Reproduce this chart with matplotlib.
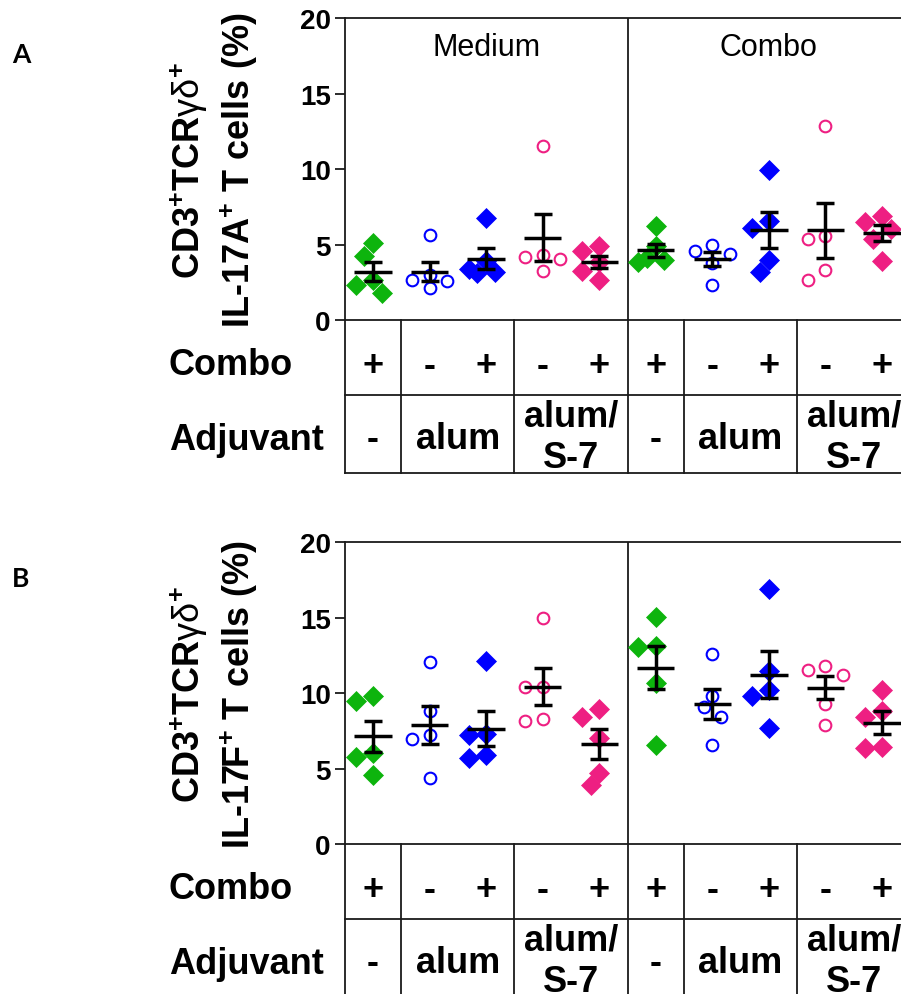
import numpy as np
import matplotlib.pyplot as plt

plt.rcParams["font.family"] = ["Liberation Sans", "DejaVu Sans"]
plt.rcParams["mathtext.fontset"] = "custom"
plt.rcParams["mathtext.rm"] = "Liberation Sans"
plt.rcParams["mathtext.bf"] = "Liberation Sans:bold"
plt.rcParams["mathtext.it"] = "Liberation Sans:italic"

FIG_W, FIG_H = 901, 995

STIMULATIONS = ["Medium", "Combo"]
COMBO_SIGNS = ["+", "-", "+", "-", "+", "+", "-", "+", "-", "+"]
ADJUVANTS = ["-", "alum", "alum/\nS-7"]
ADJUVANT_SPANS = [(0, 0), (1, 2), (3, 4)]
Y_TICKS = [0, 5, 10, 15, 20]

# % of CD3+TCRgd+ cells, five mice per group, groups in table order
IL17A = [
    [5.11, 4.27, 2.65, 2.32, 1.79],
    [5.68, 3.01, 2.70, 2.61, 2.14],
    [6.76, 3.95, 3.38, 3.21, 3.12],
    [11.56, 4.31, 4.16, 4.09, 3.27],
    [4.93, 4.60, 3.87, 3.27, 2.67],
    [6.26, 4.89, 4.13, 4.02, 3.87],
    [4.97, 4.60, 4.42, 3.82, 2.34],
    [9.97, 6.59, 6.08, 4.02, 3.18],
    [12.89, 5.55, 5.37, 3.34, 2.67],
    [6.92, 6.52, 6.03, 5.37, 3.96],
]
IL17F = [
    [9.80, 9.49, 6.07, 5.76, 4.62],
    [12.04, 8.82, 7.22, 7.00, 4.42],
    [12.11, 7.33, 7.27, 5.89, 5.71],
    [14.96, 10.40, 10.40, 8.33, 8.16],
    [8.98, 8.44, 7.04, 4.69, 3.96],
    [15.04, 13.11, 13.04, 10.71, 6.60],
    [12.62, 9.82, 9.07, 8.40, 6.56],
    [16.93, 11.49, 10.22, 9.82, 7.71],
    [11.82, 11.56, 11.22, 9.27, 7.93],
    [10.24, 8.82, 8.44, 6.42, 6.38],
]

GREEN, BLUE, PINK = "#0DB40D", "#0000FF", "#EE1F82"
# (color, marker, filled) for the five adjuvant/combo groups
GROUP_STYLES = [
    (GREEN, "D", True),
    (BLUE, "o", False),
    (BLUE, "D", True),
    (PINK, "o", False),
    (PINK, "D", True),
]

LINE_C = "#1a1a1a"
LINE_W = 1.3
BAR_W = 2.5
TABLE_H = 153.0
TABLE_SPLIT = 74.4


def fx(px):
    return px / FIG_W


def fy(px):
    return 1 - px / FIG_H


def swarm_x(ax, x0, values, step_px=8.7, min_dist_px=14.0):
    # spread overlapping points sideways, largest value first
    pts = ax.transData.transform(np.column_stack([np.full(len(values), x0), values]))
    xs = pts[:, 0].copy()
    placed = []
    for i in np.argsort(values)[::-1]:
        y = pts[i, 1]
        best, best_gap = pts[i, 0], -1.0
        for k in [0, -1, 1, -2, 2]:
            x = pts[i, 0] + k * step_px
            gap = min([np.hypot(x - px, y - py) for px, py in placed] or [np.inf])
            if gap >= min_dist_px:
                best = x
                break
            if gap > best_gap:
                best, best_gap = x, gap
        placed.append((best, y))
        xs[i] = best
    return ax.transData.inverted().transform(np.column_stack([xs, pts[:, 1]]))[:, 0]


def draw_panel(fig, top_px, data, letter, cytokine, show_header):
    bottom_px = top_px + 302.0
    left_px, width_px = 344.7, 565.6
    ax = fig.add_axes([fx(left_px), fy(bottom_px), width_px / FIG_W, (bottom_px - top_px) / FIG_H])
    ax.set_xlim(-0.5, 9.5)
    ax.set_ylim(0, 20)
    for side in ["left", "top", "bottom"]:
        ax.spines[side].set_linewidth(LINE_W)
        ax.spines[side].set_color(LINE_C)
    ax.spines["right"].set_visible(False)
    ax.set_xticks([])
    ax.set_yticks(Y_TICKS, labels=[str(t) for t in Y_TICKS], fontsize=20, fontweight="bold")
    ax.tick_params(axis="y", direction="out", length=7, width=LINE_W, color=LINE_C, pad=3)
    ax.axvline(4.5, color=LINE_C, lw=LINE_W)

    for g, vals in enumerate(data):
        vals = np.asarray(vals)
        color, marker, filled = GROUP_STYLES[g % 5]
        xs = swarm_x(ax, g, vals)
        if filled:
            ax.plot(xs, vals, ls="none", marker=marker, ms=9.8, mfc=color, mec=color,
                    mew=0.5, zorder=2, clip_on=False)
        else:
            ax.plot(xs, vals, ls="none", marker=marker, ms=8.4, mfc="none", mec=color,
                    mew=1.5, zorder=2, clip_on=False)
        mean = vals.mean()
        sem = vals.std(ddof=1) / np.sqrt(len(vals))
        ax.errorbar(g, mean, yerr=sem, fmt="none", ecolor="black", elinewidth=BAR_W,
                    capsize=6.8, capthick=BAR_W, zorder=3)
        ax.hlines(mean, g - 0.33, g + 0.33, color="black", lw=BAR_W, zorder=3)

    if show_header:
        for s, name in enumerate(STIMULATIONS):
            ax.text(2 + 5 * s, 17.6, name, ha="center", va="baseline", fontsize=22)

    # condition table below the axis
    tab = fig.add_axes([fx(left_px), fy(bottom_px + TABLE_H), width_px / FIG_W, TABLE_H / FIG_H])
    tab.set_xlim(-0.5, 9.5)
    tab.set_ylim(TABLE_H, 0)
    tab.axis("off")
    for xv in [-0.5, 0.5, 2.5, 4.5, 5.5, 7.5]:
        tab.plot([xv, xv], [0, TABLE_H], color=LINE_C, lw=LINE_W, clip_on=False)
    for yv in [TABLE_SPLIT, TABLE_H]:
        tab.plot([-0.5, 9.5], [yv, yv], color=LINE_C, lw=LINE_W, clip_on=False)

    for g, sign in enumerate(COMBO_SIGNS):
        tab.text(g, 54.5, sign, ha="center", va="baseline", fontsize=26, fontweight="bold")
    for s in range(len(STIMULATIONS)):
        for name, (a, b) in zip(ADJUVANTS, ADJUVANT_SPANS):
            xc = 5 * s + (a + b) / 2
            lines = name.split("\n")
            if len(lines) == 1:
                tab.text(xc, 128.0, name, ha="center", va="baseline", fontsize=26, fontweight="bold")
            else:
                tab.text(xc, 105.4, lines[0], ha="center", va="baseline", fontsize=26, fontweight="bold")
                tab.text(xc, 146.5, lines[1], ha="center", va="baseline", fontsize=26, fontweight="bold")

    fig.text(fx(169), fy(bottom_px + 53.7), "Combo", ha="left", va="baseline",
             fontsize=26, fontweight="bold")
    fig.text(fx(169), fy(bottom_px + 128.7), "Adjuvant", ha="left", va="baseline",
             fontsize=26, fontweight="bold")

    yc = (top_px + bottom_px) / 2
    fig.text(fx(200), fy(yc), r"CD3$^{\mathbf{+}}$TCR$\mathrm{\gamma\delta}^{\mathbf{+}}$",
             rotation=90, rotation_mode="anchor", ha="center", va="baseline",
             fontsize=26, fontweight="bold")
    fig.text(fx(250), fy(yc), "IL-17" + cytokine + r"$^{\mathbf{+}}$ T cells (%)",
             rotation=90, rotation_mode="anchor", ha="center", va="baseline",
             fontsize=26, fontweight="bold")

    fig.text(fx(12), fy(top_px + 44), letter, ha="left", va="baseline",
             fontsize=19, fontweight="bold", family=["Lato", "DejaVu Sans"])
    return ax


fig = plt.figure(figsize=(FIG_W / 100, FIG_H / 100), dpi=100)
draw_panel(fig, 19.3, IL17A, "A", "A", show_header=True)
draw_panel(fig, 543.3, IL17F, "B", "F", show_header=False)
fig.savefig("out.png", dpi=100)
